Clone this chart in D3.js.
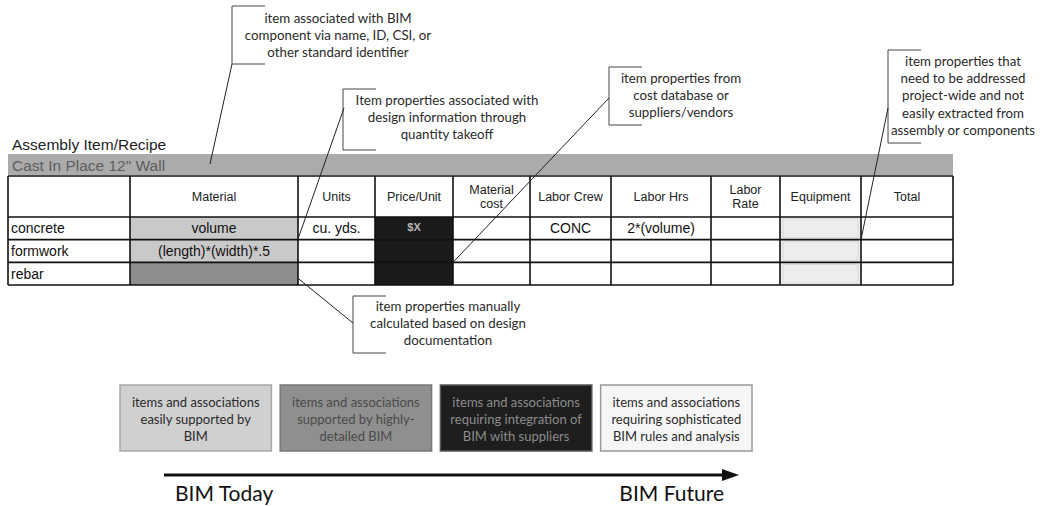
<!DOCTYPE html>
<html><head><meta charset="utf-8">
<script src="https://cdn.jsdelivr.net/npm/d3@7"></script>
<style>
html,body{margin:0;padding:0;background:#fff;}
svg{display:block;}
</style></head>
<body>
<svg id="chart" width="1043" height="506"></svg>
<script>
// ---------------- DATA ----------------
const title = "Assembly Item/Recipe";
const assemblyName = "Cast In Place 12\" Wall";
const columns = ["", "Material", "Units", "Price/Unit", "Material cost", "Labor Crew", "Labor Hrs", "Labor Rate", "Equipment", "Total"];
const headerLines = [[""], ["Material"], ["Units"], ["Price/Unit"], ["Material", "cost"], ["Labor Crew"], ["Labor Hrs"], ["Labor", "Rate"], ["Equipment"], ["Total"]];
const rows = ["concrete", "formwork", "rebar"];
const concreteValues = ["volume", "cu. yds.", "$X", "", "CONC", "2*(volume)", "", "", ""];
const formworkValues = ["(length)*(width)*.5", "", "", "", "", "", "", "", ""];
const rebarValues = ["", "", "", "", "", "", "", "", ""];
const concreteLevels = ["easy", null, "suppliers", null, null, null, null, "rules", null];
const formworkLevels = ["easy", null, "suppliers", null, null, null, null, "rules", null];
const rebarLevels = ["detailed", null, "suppliers", null, null, null, null, "rules", null];
const levels = ["easy", "detailed", "suppliers", "rules"];
const levelLabels = [
  ["items and associations", "easily supported by", "BIM"],
  ["items and associations", "supported by highly-", "detailed BIM"],
  ["items and associations", "requiring integration of", "BIM with suppliers"],
  ["items and associations", "requiring sophisticated", "BIM rules and analysis"]
];
const annotationTexts = [
  ["item associated with BIM", "component via name, ID, CSI, or", "other standard identifier"],
  ["Item properties associated with", "design information through", "quantity takeoff"],
  ["item properties from", "cost database or", "suppliers/vendors"],
  ["item properties that", "need to be addressed", "project-wide and not", "easily extracted from", "assembly or components"],
  ["item properties manually", "calculated based on design", "documentation"]
];
const timeline = ["BIM Today", "BIM Future"];

// ---------------- LAYOUT / STYLE ----------------
const colEdges = [8, 130, 298, 375, 453, 530, 611, 711, 780, 861, 953];
const tableTop = 176, headerBottom = 217, tableBottom = 285;
const levelFill = {easy: "#c9c9c9", detailed: "#8d8d8d", suppliers: "#1b1b1b", rules: "#ededed"};
const legendFill = {easy: "#d0d0d0", detailed: "#8f8f8f", suppliers: "#1e1e1e", rules: "#f6f6f6"};
const legendText = {easy: "#2a2a2a", detailed: "#4a4a4a", suppliers: "#8c8c8c", rules: "#2a2a2a"};
const legendStroke = {easy: "#a8a8a8", detailed: "#777", suppliers: "#555", rules: "#999"};
const calloutFont = "Lato, 'Open Sans', sans-serif";
const tableFont = "'Liberation Sans', Arial, sans-serif";

const svg = d3.select("#chart");

// scales
const xStart = d3.scaleOrdinal().domain(columns).range(colEdges.slice(0, -1));
const xEnd = d3.scaleOrdinal().domain(columns).range(colEdges.slice(1));
const yRow = d3.scaleBand().domain(rows).range([headerBottom, tableBottom]);
const rowValues = {concrete: concreteValues, formwork: formworkValues, rebar: rebarValues};
const rowLevels = {concrete: concreteLevels, formwork: formworkLevels, rebar: rebarLevels};

// title
svg.append("text").attr("x", 12).attr("y", 150).text(title)
  .attr("font-family", tableFont).attr("font-size", 15.5).attr("fill", "#1e1e1e");
// assembly bar
svg.append("rect").attr("x", colEdges[0]).attr("y", 154).attr("width", colEdges[colEdges.length-1] - colEdges[0]).attr("height", 21)
  .attr("fill", "#ababab");
svg.append("text").attr("x", 12).attr("y", 171).text(assemblyName)
  .attr("font-family", tableFont).attr("font-size", 15.5).attr("fill", "#5e5e5e");

// cells
const cells = [];
rows.forEach(r => {
  columns.slice(1).forEach((c, i) => {
    cells.push({row: r, col: c, value: rowValues[r][i], level: rowLevels[r][i]});
  });
});
const tbl = svg.append("g");
tbl.append("rect").attr("x", colEdges[0]).attr("y", tableTop).attr("width", colEdges[colEdges.length-1]-colEdges[0])
  .attr("height", tableBottom - tableTop).attr("fill", "#fff");
tbl.selectAll("rect.cell").data(cells.filter(d => d.level)).join("rect").attr("class", "cell")
  .attr("x", d => xStart(d.col)).attr("y", d => yRow(d.row))
  .attr("width", d => xEnd(d.col) - xStart(d.col)).attr("height", yRow.bandwidth())
  .attr("fill", d => levelFill[d.level]);
tbl.selectAll("rect.eq").data(cells.filter(d => d.level === "rules")).join("rect").attr("class", "eq")
  .attr("x", d => xStart(d.col) + 3).attr("y", d => yRow(d.row) + 2)
  .attr("width", d => xEnd(d.col) - xStart(d.col) - 6).attr("height", yRow.bandwidth() - 4)
  .attr("fill", "none").attr("stroke", "#d8d8d8").attr("stroke-width", 1);

// grid lines
const hLines = [tableTop, headerBottom, ...rows.slice(1).map(r => yRow(r)), tableBottom];
tbl.selectAll("line.h").data(hLines).join("line").attr("class", "h")
  .attr("x1", colEdges[0]).attr("x2", colEdges[colEdges.length-1]).attr("y1", d => d).attr("y2", d => d)
  .attr("stroke", "#111").attr("stroke-width", 1.6);
tbl.selectAll("line.v").data(colEdges).join("line").attr("class", "v")
  .attr("x1", d => d).attr("x2", d => d).attr("y1", tableTop).attr("y2", tableBottom)
  .attr("stroke", "#111").attr("stroke-width", 1.6);

// header text
columns.forEach((c, i) => {
  const lines = headerLines[i];
  const cx = (xStart(c) + xEnd(c)) / 2;
  const mid = (tableTop + headerBottom) / 2;
  lines.forEach((ln, j) => {
    tbl.append("text").attr("x", cx).attr("y", mid + 4.5 + (j - (lines.length - 1) / 2) * 14)
      .attr("text-anchor", "middle").attr("font-family", tableFont).attr("font-size", 12.5)
      .attr("fill", "#222").text(ln);
  });
});
// row labels
tbl.selectAll("text.rl").data(rows).join("text").attr("class", "rl")
  .attr("x", colEdges[0] + 3).attr("y", d => yRow(d) + yRow.bandwidth() / 2 + 5)
  .attr("font-family", tableFont).attr("font-size", 14).attr("fill", "#111").text(d => d);
// values
tbl.selectAll("text.val").data(cells.filter(d => d.value)).join("text").attr("class", "val")
  .attr("x", d => (xStart(d.col) + xEnd(d.col)) / 2)
  .attr("y", d => yRow(d.row) + yRow.bandwidth() / 2 + (d.level === "suppliers" ? 3 : 5))
  .attr("text-anchor", "middle").attr("font-family", tableFont)
  .attr("font-size", d => d.level === "suppliers" ? 11 : 14)
  .attr("font-weight", d => d.level === "suppliers" ? "bold" : "normal")
  .attr("fill", d => d.level === "suppliers" ? "#b8b8b8" : "#111").text(d => d.value);

// ---------------- CALLOUTS ----------------
const callouts = [
  {x: 232, top: 6, bottom: 64, arm: 33, cx: 338, y0: 23, lh: 16.8, from: [232, 64], to: [210, 164]},
  {x: 343, top: 89, bottom: 150, arm: 33, cx: 447, y0: 105, lh: 16.8, from: [344, 108], to: [xStart("Units"), yRow("concrete") + 22]},
  {x: 609, top: 67, bottom: 125, arm: 33, cx: 681, y0: 83, lh: 16.8, from: [609, 98], to: [xEnd("Price/Unit"), yRow("rebar")]},
  {x: 888, top: 50, bottom: 143, arm: 33, cx: 963, y0: 66, lh: 17.2, from: [888, 108], to: [xEnd("Equipment"), yRow("formwork")]},
  {x: 353, top: 296, bottom: 353, arm: 33, cx: 448, y0: 311, lh: 16.8, from: [353, 323], to: [xEnd("Material"), yRow("rebar") + 16]}
];
const cg = svg.append("g");
callouts.forEach((c, i) => {
  cg.append("path").attr("d", `M${c.x + c.arm},${c.top}H${c.x}V${c.bottom}H${c.x + c.arm}`)
    .attr("fill", "none").attr("stroke", "#444").attr("stroke-width", 1);
  cg.append("line").attr("x1", c.from[0]).attr("y1", c.from[1]).attr("x2", c.to[0]).attr("y2", c.to[1])
    .attr("stroke", "#222").attr("stroke-width", 1);
  annotationTexts[i].forEach((t, j) => {
    cg.append("text").attr("x", c.cx).attr("y", c.y0 + j * c.lh).attr("text-anchor", "middle")
      .attr("font-family", calloutFont).attr("font-size", 13.3).attr("fill", "#2a2a2a").text(t);
  });
});

// ---------------- LEGEND ----------------
const xLegend = d3.scaleBand().domain(levels).range([120, 752]).paddingInner(0.055);
const lg = svg.append("g");
lg.selectAll("rect").data(levels).join("rect")
  .attr("x", d => xLegend(d)).attr("y", 385).attr("width", xLegend.bandwidth()).attr("height", 66)
  .attr("fill", d => legendFill[d]).attr("stroke", d => legendStroke[d]).attr("stroke-width", 1.5);
levels.forEach((lv, i) => {
  levelLabels[i].forEach((t, j) => {
    lg.append("text").attr("x", xLegend(lv) + xLegend.bandwidth() / 2).attr("y", 407 + j * 17)
      .attr("text-anchor", "middle").attr("font-family", calloutFont).attr("font-size", 13)
      .attr("fill", legendText[lv]).text(t);
  });
});

// ---------------- TIMELINE ----------------
svg.append("line").attr("x1", 164).attr("x2", 726).attr("y1", 475).attr("y2", 475)
  .attr("stroke", "#111").attr("stroke-width", 3);
svg.append("path").attr("d", "M722,469L739,475L722,481Z").attr("fill", "#111");
svg.append("text").attr("x", 175).attr("y", 501).text(timeline[0])
  .attr("font-family", calloutFont).attr("font-size", 21).attr("fill", "#111");
svg.append("text").attr("x", 724).attr("y", 501).attr("text-anchor", "end").text(timeline[1])
  .attr("font-family", calloutFont).attr("font-size", 21).attr("fill", "#111");
</script>
</body></html>
